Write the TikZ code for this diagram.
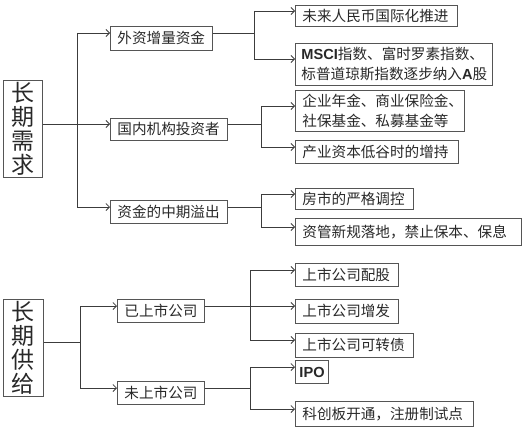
\documentclass[tikz,border=0pt]{standalone}
\usepackage{fontspec}
\newfontfamily\cjk{Noto Sans CJK SC}
\newfontfamily\lat{Liberation Sans}
\usetikzlibrary{arrows.meta,calc}
\definecolor{lnc}{RGB}{60,60,60}
\definecolor{bdc}{RGB}{85,85,85}
\definecolor{txc}{RGB}{40,40,40}
\newcommand{\LT}[1]{{\lat\bfseries #1}}
\begin{document}
\begin{tikzpicture}[x=1pt,y=-1pt,
  box/.style={draw=bdc, line width=0.9pt, anchor=west, inner xsep=7pt, inner ysep=0pt,
    minimum height=23pt, font=\cjk\fontsize{14.6}{20}\selectfont, text=txc, align=left},
  big/.style={draw=bdc, line width=0.9pt, anchor=north west, minimum width=39pt,
    minimum height=97pt, inner sep=0pt, font=\cjk\fontsize{23}{24}\selectfont, text=txc, align=center},
  ln/.style={draw=lnc, line width=0.8pt},
  arr/.style={ln, -{Straight Barb[length=3.5pt,width=7pt]}}
]
\useasboundingbox (0,0) rectangle (524,428);
% roots
\node[big] (r1) at (3,80) {长\\期\\需\\求};
\node[big, minimum width=40pt] (r2) at (3,299) {长\\期\\供\\给};
% mid level
\node[box, text width=88pt, minimum height=24pt] (a1) at (110,38) {外资增量资金};
\node[box, text width=103pt, minimum height=22pt] (a2) at (110,129) {国内机构投资者};
\node[box, text width=103pt] (a3) at (110,212) {资金的中期溢出};
\node[box, text width=73pt] (c1) at (117,311) {已上市公司};
\node[box, text width=73pt] (c2) at (117,393) {未上市公司};
% leaves
\node[box, text width=148pt, minimum height=21pt] (b1) at (295,16) {未来人民币国际化推进};
\node[box, inner xsep=6pt, text width=185pt, minimum height=42pt] (b2) at (295,64) {\LT{MSCI}指数、富时罗素指数、\\标普道琼斯指数逐步纳入\LT{A}股};
\node[box, text width=155pt, minimum height=41pt] (b3) at (295,111) {企业年金、商业保险金、\\社保基金、私募基金等};
\node[box, text width=149pt] (b4) at (295,152) {产业资本低谷时的增持};
\node[box, text width=104pt, minimum height=21pt] (b5) at (295,199) {房市的严格调控};
\node[box, text width=212pt, minimum height=27pt] (b6) at (295,232) {资管新规落地，禁止保本、保息};
\node[box, text width=89pt] (d1) at (295,275) {上市公司配股};
\node[box, text width=89pt, minimum height=24pt] (d2) at (295,311) {上市公司增发};
\node[box, text width=104pt, minimum height=24pt] (d3) at (295,345) {上市公司可转债};
\node[box, inner xsep=4pt, text width=25pt] (d4) at (295,372) {\LT{IPO}};
\node[box, text width=164pt, minimum height=25pt] (d5) at (295,414) {科创板开通，注册制试点};
% tip points (arrows hit slightly above centre)
\foreach \n in {a1,a2,a3,c1,c2,b1,b2,b3,b4,b5,b6,d1,d2,d3,d4,d5}{
  \coordinate (\n w) at ([yshift=5pt]\n.west);
  \coordinate (\n e) at ([yshift=5pt]\n.east);
}
% bracket columns
\coordinate (v1) at (77,0);
\coordinate (v2) at (80,0);
\coordinate (va) at (254,0);
\coordinate (vb) at (261,0);
\coordinate (vc) at (250,0);
% root 1
\draw[ln] (r1.east |- a2w) -- (a2w -| v1);
\draw[ln] (a1w -| v1) -- (a3w -| v1);
\foreach \n in {a1,a2,a3} \draw[arr] (\n w -| v1) -- (\n w);
% root 2
\draw[ln] (r2.east |- 0,342) coordinate (r2e) -- (r2e -| v2);
\draw[ln] (c1w -| v2) -- (c2w -| v2);
\foreach \n in {c1,c2} \draw[arr] (\n w -| v2) -- (\n w);
% a1
\draw[ln] (a1e) -- (a1e -| va);
\draw[ln] (b1w -| va) -- (b2w -| va);
\foreach \n in {b1,b2} \draw[arr] (\n w -| va) -- (\n w);
% a2
\draw[ln] (a2e) -- (a2e -| vb);
\draw[ln] (b3w -| vb) -- (b4w -| vb);
\foreach \n in {b3,b4} \draw[arr] (\n w -| vb) -- (\n w);
% a3
\draw[ln] (a3e) -- (a3e -| vb);
\draw[ln] (b5w -| vb) -- (b6w -| vb);
\foreach \n in {b5,b6} \draw[arr] (\n w -| vb) -- (\n w);
% c1
\draw[ln] (c1e) -- (c1e -| vc);
\draw[ln] (d1w -| vc) -- (d3w -| vc);
\foreach \n in {d1,d2,d3} \draw[arr] (\n w -| vc) -- (\n w);
% c2
\draw[ln] (c2e) -- (c2e -| vc);
\draw[ln] (d4w -| vc) -- (d5w -| vc);
\foreach \n in {d4,d5} \draw[arr] (\n w -| vc) -- (\n w);
\end{tikzpicture}
\end{document}
